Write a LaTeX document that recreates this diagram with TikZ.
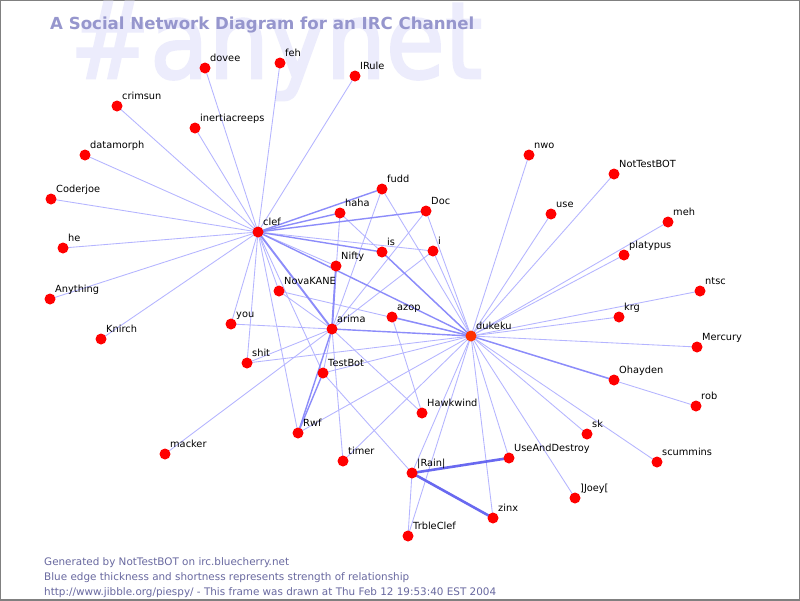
\documentclass[tikz,border=0pt]{standalone}
\usepackage{fontspec}
\setmainfont{DejaVu Sans}
\newfontfamily\wmfont[BoldFont={DejaVu Sans},BoldFeatures={FakeBold=2.5}]{DejaVu Sans}
\definecolor{nodered}{RGB}{255,0,0}
\definecolor{hubred}{RGB}{255,51,0}
\definecolor{framegray}{RGB}{128,128,128}
\definecolor{wmcol}{RGB}{236,236,252}
\definecolor{titlecol}{RGB}{150,150,205}
\definecolor{footcol}{RGB}{105,105,160}
\definecolor{ethincol}{RGB}{180,180,255}
\definecolor{emedcol}{RGB}{140,140,250}
\definecolor{ethickcol}{RGB}{105,105,240}
\begin{document}
\begin{tikzpicture}[x=1pt,y=-1pt,
  pn/.style={circle,fill=nodered,inner sep=0pt,minimum size=11pt},
  lbl/.style={anchor=base west,inner sep=0pt,font=\fontsize{9.8}{9.8}\selectfont,text=black},
  ethin/.style={draw=ethincol,line width=0.85pt},
  emed/.style={draw=emedcol,line width=1.4pt},
  ethick/.style={draw=ethickcol,line width=2.6pt}]
\useasboundingbox (0,0) rectangle (800,600);
\fill[white] (0,0) rectangle (800,600);
\draw[framegray,line width=2pt] (0,0) rectangle (800,600);
% watermark and title
\node[anchor=base west,inner sep=0pt,text=wmcol,font=\wmfont\bfseries\fontsize{106}{106}\selectfont,xscale=0.9] (wm) at (70,78) {\#anynet};
\node[anchor=base west,inner sep=0pt,text=titlecol,font=\bfseries\fontsize{16.6}{16.6}\selectfont] (title) at (50,29) {A Social Network Diagram for an IRC Channel};
% coordinates of nodes
\foreach \n/\x/\y in {dovee/205/68, feh/280/63, IRule/355/76, crimsun/117/106, inertiacreeps/195/128,
  datamorph/85/155, Coderjoe/51/199, he/63/248, Anything/50/299, Knirch/101/339, clef/258/232,
  fudd/382/189, haha/340/213, Doc/426/211, is/382/252, i/433/251, Nifty/336/266, NovaKANE/279/291,
  azop/392/317, you/231/324, arima/332/329, shit/247/363, TestBot/323/373, Hawkwind/422/413,
  Rwf/298/433, macker/165/454, timer/343/461, Rain/412/473, UseAndDestroy/509/458, zinx/493/518,
  TrbleClef/408/536, dukeku/471/336, nwo/529/155, NotTestBOT/614/174, use/551/214, meh/668/222,
  platypus/624/255, ntsc/700/291, krg/619/317, Mercury/697/347, Ohayden/614/380, rob/696/406,
  sk/587/434, scummins/657/462, Joey/575/498}
  {\coordinate (\n) at (\x,\y);}
% edges
\foreach \a/\b in {clef/dovee, clef/feh, clef/IRule, clef/crimsun, clef/inertiacreeps, clef/datamorph,
  clef/Coderjoe, clef/he, clef/Anything, clef/Knirch, clef/you, clef/shit, clef/i, clef/Nifty,
  clef/NovaKANE, clef/TestBot, clef/Rwf,
  arima/you, arima/shit, arima/TestBot, arima/timer, arima/Hawkwind, arima/macker, arima/fudd,
  arima/Doc, arima/i, arima/haha, arima/NovaKANE,
  dukeku/nwo, dukeku/NotTestBOT, dukeku/use, dukeku/meh, dukeku/platypus, dukeku/ntsc, dukeku/krg,
  dukeku/Mercury, dukeku/rob, dukeku/sk, dukeku/scummins, dukeku/Joey, dukeku/zinx,
  dukeku/UseAndDestroy, dukeku/TrbleClef, dukeku/Rain, dukeku/timer, dukeku/Rwf, dukeku/TestBot,
  dukeku/shit, dukeku/NovaKANE, dukeku/i, dukeku/Doc, dukeku/fudd, dukeku/haha,
  Rain/TrbleClef, Rain/TestBot, azop/Hawkwind}
  {\path[ethin] (\a) -- (\b);}
\foreach \a/\b in {clef/fudd, clef/haha, clef/Doc, clef/is, clef/dukeku, arima/dukeku, arima/Rwf,
  dukeku/Ohayden, dukeku/azop, dukeku/is, TestBot/Rwf}
  {\path[emed] (\a) -- (\b);}
\foreach \a/\b in {clef/arima, arima/Nifty}
  {\path[emed,line width=1.9pt] (\a) -- (\b);}
\foreach \a/\b in {Rain/UseAndDestroy, Rain/zinx}
  {\path[ethick] (\a) -- (\b);}
% nodes and labels
\foreach \n/\t in {dovee/dovee, feh/feh, IRule/IRule, crimsun/crimsun, inertiacreeps/inertiacreeps,
  datamorph/datamorph, Coderjoe/Coderjoe, he/he, Anything/Anything, Knirch/Knirch, clef/clef,
  fudd/fudd, haha/haha, Doc/Doc, is/is, i/i, Nifty/Nifty, NovaKANE/NovaKANE, azop/azop, you/you,
  arima/arima, shit/shit, TestBot/TestBot, Hawkwind/Hawkwind, Rwf/Rwf, macker/macker, timer/timer,
  Rain/{|Rain|}, UseAndDestroy/UseAndDestroy, zinx/zinx, TrbleClef/TrbleClef, nwo/nwo,
  NotTestBOT/NotTestBOT, use/use, meh/meh, platypus/platypus, ntsc/ntsc, krg/krg, Mercury/Mercury,
  Ohayden/Ohayden, rob/rob, sk/sk, scummins/scummins, Joey/{]Joey[}}
  {\node[pn] (n-\n) at (\n) {};
   \node[lbl] (l-\n) at ([shift={(5,-7)}]\n) {\t};}
\node[pn,fill=hubred] (n-dukeku) at (dukeku) {};
\node[lbl] (l-dukeku) at ([shift={(5,-7)}]dukeku) {dukeku};
% footer
\begin{scope}[every node/.style={anchor=base west,inner sep=0pt,text=footcol,font=\fontsize{10.4}{10.4}\selectfont}]
\node (f1) at (44,565) {Generated by NotTestBOT on irc.bluecherry.net};
\node (f2) at (44,580) {Blue edge thickness and shortness represents strength of relationship};
\node (f3) at (44,595) {http://www.jibble.org/piespy/ - This frame was drawn at Thu Feb 12 19:53:40 EST 2004};
\end{scope}
\end{tikzpicture}
\end{document}
